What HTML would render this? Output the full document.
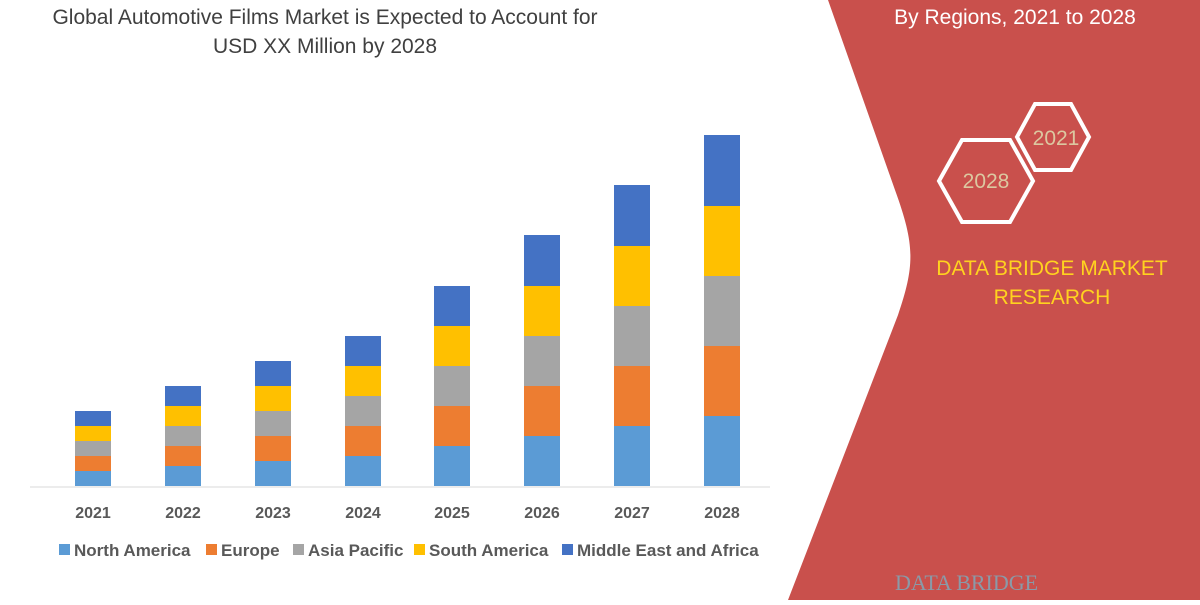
<!DOCTYPE html>
<html><head><meta charset="utf-8"><style>
body{margin:0;width:1200px;height:600px;overflow:hidden;background:#fff;font-family:"Liberation Sans",sans-serif}
</style></head><body>
<svg width="1200" height="600" viewBox="0 0 1200 600" xmlns="http://www.w3.org/2000/svg" font-family="Liberation Sans, sans-serif">
<rect width="1200" height="600" fill="#fff"/>
<path d="M828,0 L895,190 C915,245 915,265 898,315 L788,600 L1200,600 L1200,0 Z" fill="#c9504c"/>
<text x="325" y="24" font-size="21" fill="#404040" text-anchor="middle">Global Automotive Films Market is Expected to Account for</text>
<text x="325" y="53" font-size="21" fill="#404040" text-anchor="middle">USD XX Million by 2028</text>
<text x="1015" y="24" font-size="21" fill="#fff" text-anchor="middle">By Regions, 2021 to 2028</text>
<polygon points="1017,137 1035,104 1071,104 1089,137 1071,170 1035,170" fill="none" stroke="#fff" stroke-width="4"/>
<polygon points="939,181 962,140 1010,140 1033,181 1010,222 962,222" fill="none" stroke="#fff" stroke-width="4"/>
<text x="1056" y="145" font-size="21" fill="#dcc8a0" text-anchor="middle">2021</text>
<text x="986" y="188" font-size="21" fill="#dcc8a0" text-anchor="middle">2028</text>
<text x="1052" y="275" font-size="21" fill="#ffd21f" text-anchor="middle">DATA BRIDGE MARKET</text>
<text x="1052" y="304" font-size="21" fill="#ffd21f" text-anchor="middle">RESEARCH</text>
<text x="895" y="590" font-size="22" fill="#8a9aa8" font-family="Liberation Serif, serif">DATA BRIDGE</text>
<line x1="30" y1="487" x2="770" y2="487" stroke="#d9d9d9" stroke-width="1"/>
<g font-size="16" font-weight="bold" fill="#595959" text-anchor="middle">
<text x="93" y="518">2021</text><text x="183" y="518">2022</text><text x="273" y="518">2023</text><text x="363" y="518">2024</text><text x="452" y="518">2025</text><text x="542" y="518">2026</text><text x="632" y="518">2027</text><text x="722" y="518">2028</text>
</g>
<g font-size="17" font-weight="bold" fill="#595959">
<rect x="59" y="544" width="11" height="11" fill="#5b9bd5"/><text x="74" y="556">North America</text>
<rect x="206" y="544" width="11" height="11" fill="#ed7d31"/><text x="221" y="556">Europe</text>
<rect x="293" y="544" width="11" height="11" fill="#a5a5a5"/><text x="308" y="556">Asia Pacific</text>
<rect x="414" y="544" width="11" height="11" fill="#ffc000"/><text x="429" y="556">South America</text>
<rect x="562" y="544" width="11" height="11" fill="#4472c4"/><text x="577" y="556">Middle East and Africa</text>
</g>
<g>
<rect x="75" y="471" width="36" height="15" fill="#5b9bd5"/><rect x="75" y="456" width="36" height="15" fill="#ed7d31"/><rect x="75" y="441" width="36" height="15" fill="#a5a5a5"/><rect x="75" y="426" width="36" height="15" fill="#ffc000"/><rect x="75" y="411" width="36" height="15" fill="#4472c4"/>
<rect x="165" y="466" width="36" height="20" fill="#5b9bd5"/><rect x="165" y="446" width="36" height="20" fill="#ed7d31"/><rect x="165" y="426" width="36" height="20" fill="#a5a5a5"/><rect x="165" y="406" width="36" height="20" fill="#ffc000"/><rect x="165" y="386" width="36" height="20" fill="#4472c4"/>
<rect x="255" y="461" width="36" height="25" fill="#5b9bd5"/><rect x="255" y="436" width="36" height="25" fill="#ed7d31"/><rect x="255" y="411" width="36" height="25" fill="#a5a5a5"/><rect x="255" y="386" width="36" height="25" fill="#ffc000"/><rect x="255" y="361" width="36" height="25" fill="#4472c4"/>
<rect x="345" y="456" width="36" height="30" fill="#5b9bd5"/><rect x="345" y="426" width="36" height="30" fill="#ed7d31"/><rect x="345" y="396" width="36" height="30" fill="#a5a5a5"/><rect x="345" y="366" width="36" height="30" fill="#ffc000"/><rect x="345" y="336" width="36" height="30" fill="#4472c4"/>
<rect x="434" y="446" width="36" height="40" fill="#5b9bd5"/><rect x="434" y="406" width="36" height="40" fill="#ed7d31"/><rect x="434" y="366" width="36" height="40" fill="#a5a5a5"/><rect x="434" y="326" width="36" height="40" fill="#ffc000"/><rect x="434" y="286" width="36" height="40" fill="#4472c4"/>
<rect x="524" y="436" width="36" height="50" fill="#5b9bd5"/><rect x="524" y="386" width="36" height="50" fill="#ed7d31"/><rect x="524" y="336" width="36" height="50" fill="#a5a5a5"/><rect x="524" y="286" width="36" height="50" fill="#ffc000"/><rect x="524" y="235" width="36" height="51" fill="#4472c4"/>
<rect x="614" y="426" width="36" height="60" fill="#5b9bd5"/><rect x="614" y="366" width="36" height="60" fill="#ed7d31"/><rect x="614" y="306" width="36" height="60" fill="#a5a5a5"/><rect x="614" y="246" width="36" height="60" fill="#ffc000"/><rect x="614" y="185" width="36" height="61" fill="#4472c4"/>
<rect x="704" y="416" width="36" height="70" fill="#5b9bd5"/><rect x="704" y="346" width="36" height="70" fill="#ed7d31"/><rect x="704" y="276" width="36" height="70" fill="#a5a5a5"/><rect x="704" y="206" width="36" height="70" fill="#ffc000"/><rect x="704" y="135" width="36" height="71" fill="#4472c4"/>
</g>
</svg>
</body></html>
